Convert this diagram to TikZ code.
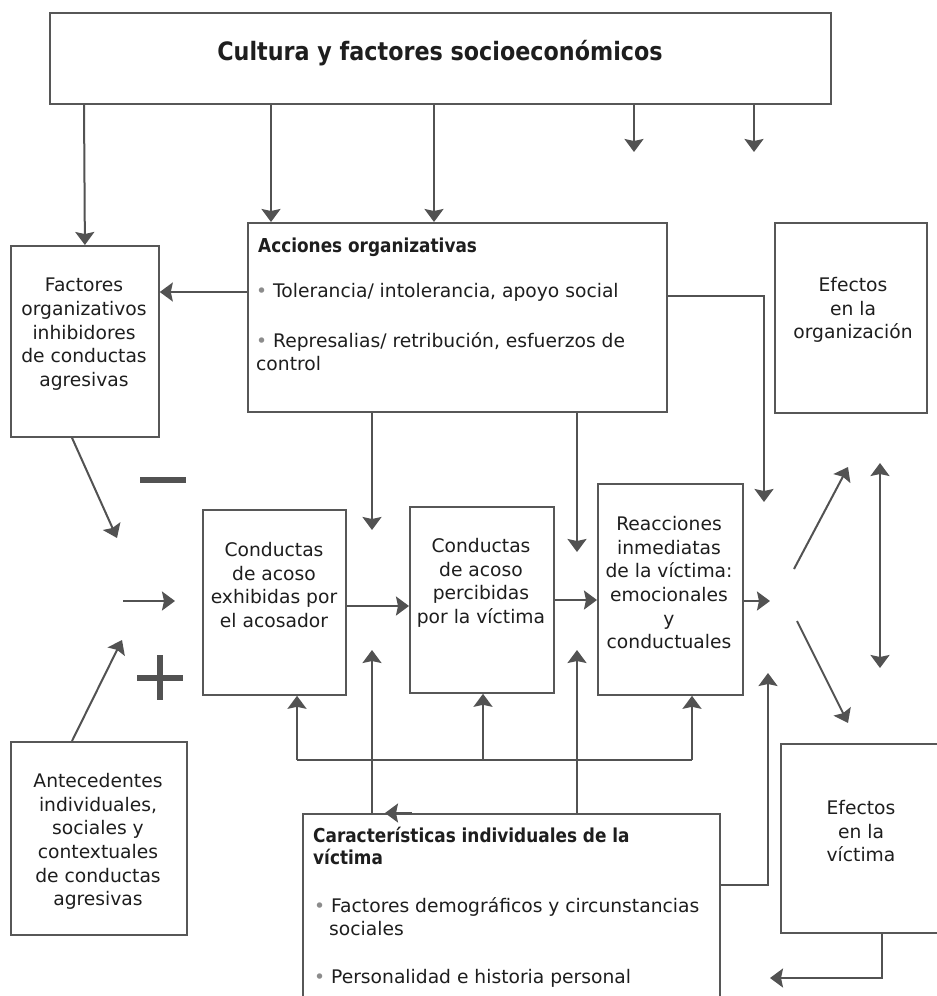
\documentclass[tikz,border=0pt]{standalone}
\usepackage{fontspec}
\setmainfont{DejaVu Sans}
\newfontfamily\headfont[FakeStretch=0.88]{DejaVu Sans}
\usetikzlibrary{arrows.meta,calc}

\definecolor{ink}{HTML}{1E1E1E}
\definecolor{wire}{HTML}{525252}
\definecolor{frame}{HTML}{575757}
\definecolor{dotgray}{HTML}{8C8C8C}

\begin{document}
\begin{tikzpicture}[x=1pt,y=-1pt,
  box/.style={draw=frame, line width=1.8pt, inner sep=0pt, anchor=north west},
  conn/.style={draw=wire, line width=2pt, -{Stealth[length=13pt,width=19pt,inset=2pt]}},
  dconn/.style={draw=wire, line width=2pt, {Stealth[length=13pt,width=19pt,inset=2pt]}-{Stealth[length=13pt,width=19pt,inset=2pt]}},
  plain/.style={draw=wire, line width=2pt},
  body/.style={font=\fontsize{18.7}{23.7}\selectfont, text=ink, inner sep=0pt},
  ml/.style={body, align=center, anchor=north, execute at begin node=\rule{0pt}{15pt}},
  ln/.style={body, anchor=base west},
  hd/.style={font=\headfont\bfseries\fontsize{19.2}{22}\selectfont, text=ink, inner sep=0pt, anchor=base west},
  sign/.style={fill=wire, draw=none},
]
\useasboundingbox (0,0) rectangle (937,996);
\fill[white] (0,0) rectangle (937,996);
\clip (0,0) rectangle (937,996);

% ---------- boxes ----------
\node[box, minimum width=781pt, minimum height=91pt]  (top)  at (49,12)   {};
\node[box, minimum width=148pt, minimum height=191pt] (fac)  at (10,245)  {};
\node[box, minimum width=419pt, minimum height=189pt] (acc)  at (247,222) {};
\node[box, minimum width=152pt, minimum height=190pt] (eorg) at (774,222) {};
\node[box, minimum width=143pt, minimum height=185pt] (exh)  at (202,509) {};
\node[box, minimum width=144pt, minimum height=186pt] (per)  at (409,506) {};
\node[box, minimum width=145pt, minimum height=211pt] (rea)  at (597,483) {};
\node[box, minimum width=176pt, minimum height=193pt] (ant)  at (10,741)  {};
\node[box, minimum width=417pt, minimum height=200pt] (car)  at (302,813) {};
\node[box, minimum width=170pt, minimum height=189pt] (evic) at (780,743) {};

% ---------- texts ----------
\node[font=\headfont\bfseries\fontsize{25.3}{28}\selectfont, text=ink, inner sep=0pt, anchor=base]
  (title) at (440,60) {Cultura y factores socioeconómicos};

\node[ml] (facT) at (84,278) {Factores\\organizativos\\inhibidores\\de conductas\\agresivas};

\node[hd] (accH) at (258,252) {Acciones organizativas};
\node[ln] (accA) at (256,297) {\textcolor{dotgray}{•} Tolerancia/ intolerancia, apoyo social};
\node[ln] (accB) at (256,347) {\textcolor{dotgray}{•} Represalias/ retribución, esfuerzos de};
\node[ln] (accC) at (256,370) {control};

\node[ml] (eorgT) at (853,277) {Efectos\\en la\\organización};
\node[ml] (exhT)  at (274,542) {Conductas\\de acoso\\exhibidas por\\el acosador};
\node[ml] (perT)  at (481,538) {Conductas\\de acoso\\percibidas\\por la víctima};
\node[ml] (reaT)  at (669,516) {Reacciones\\inmediatas\\de la víctima:\\emocionales\\y\\conductuales};
\node[ml] (antT)  at (98,773)  {Antecedentes\\individuales,\\sociales y\\contextuales\\de conductas\\agresivas};
\node[ml] (evicT) at (861,800) {Efectos\\en la\\víctima};

\node[hd] (carH1) at (313,842) {Características individuales de la};
\node[hd] (carH2) at (313,864) {víctima};
\node[ln] (carA1) at (314,912) {\textcolor{dotgray}{•} Factores demográficos y circunstancias};
\node[ln] (carA2) at (329,935) {sociales};
\node[ln] (carB)  at (314,983) {\textcolor{dotgray}{•} Personalidad e historia personal};

% ---------- free ends ----------
\coordinate (f1) at (634,152);
\coordinate (f2) at (754,152);
\coordinate (a1) at (372,530);
\coordinate (a2) at (577,552);
\coordinate (r1) at (764,502);
\coordinate (m1) at (117,538);
\coordinate (p1) at (122,640);
\coordinate (c0) at (123,601);
\coordinate (c1) at (175,601);
\coordinate (o1) at (770,601);
\coordinate (s0) at (794,569);
\coordinate (s1) at (848,467);
\coordinate (t0) at (797,621);
\coordinate (t1) at (848,723);
\coordinate (d0) at (880,463);
\coordinate (d1) at (880,668);
\coordinate (u1) at (372,650);
\coordinate (u2) at (577,650);
\coordinate (b0) at (297,760);
\coordinate (bm) at (483,760);
\coordinate (b1) at (692,760);
\coordinate (v1) at (768,673);
\coordinate (w1) at (770,978);

% ---------- connectors from the top box ----------
\draw[conn] (84,0 |- top.south) -- (fac.north);
\draw[conn] (271,0 |- top.south) -- (271,0 |- acc.north);
\draw[conn] (434,0 |- top.south) -- (434,0 |- acc.north);
\draw[conn] (f1 |- top.south) -- (f1);
\draw[conn] (f2 |- top.south) -- (f2);

% ---------- organisational actions ----------
\draw[conn] (acc.west |- 0,292) -- (fac.east |- 0,292);
\draw[conn] (acc.east |- 0,296) -| (r1);
\draw[conn] (a1 |- acc.south) -- (a1);
\draw[conn] (a2 |- acc.south) -- (a2);

% ---------- left inputs ----------
\draw[conn] (72,0 |- fac.south) -- (m1);
\draw[conn] (72,0 |- ant.north) -- (p1);
\draw[conn] (c0) -- (c1);
\fill[sign] (140,477) rectangle (186,483);
\fill[sign] (137,675) rectangle (183,681);
\fill[sign] (157,655) rectangle (163,700);

% ---------- main chain ----------
\draw[conn] (exh.east |- 0,606) -- (per.west |- 0,606);
\draw[conn] (per.east |- 0,600) -- (rea.west |- 0,600);
\draw[conn] (rea.east |- o1) -- (o1);
\draw[conn] (s0) -- (s1);
\draw[conn] (t0) -- (t1);
\draw[dconn] (d0) -- (d1);

% ---------- victim characteristics ----------
\draw[conn] (u1 |- car.north) -- (u1);
\draw[conn] (u2 |- car.north) -- (u2);
\draw[plain] (b0) -- (b1);
\draw[conn] (b0) -- (b0 |- exh.south);
\draw[conn] (bm) -- (bm |- per.south);
\draw[conn] (b1) -- (b1 |- rea.south);
\draw[conn] (car.east |- 0,885) -| (v1);
\draw[conn] ($(car.north west)+(110,0)$) -- ($(car.north west)+(83,0)$);
\draw[conn] (882,0 |- evic.south) |- (w1);
\end{tikzpicture}
\end{document}
